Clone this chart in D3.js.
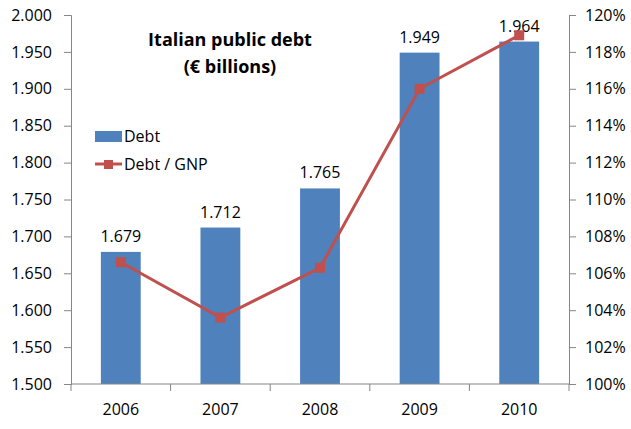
<!DOCTYPE html>
<html>
<head>
<meta charset="utf-8">
<script src="https://cdn.jsdelivr.net/npm/d3@7"></script>
<style>
    body { margin: 0; background: #fff; }
    text { font-family: 'Open Sans', sans-serif; fill: #000; }
</style>
</head>
<body>
<div id="chart"></div>
<script>
/*jslint browser: true*/
(function (d3) {
    'use strict';

    // data
    var years = ['2006', '2007', '2008', '2009', '2010'];
    var debt = [1.679, 1.712, 1.765, 1.949, 1.964];       // € trillions, shown as 1.679 etc
    var debtGnp = [106.6, 103.6, 106.3, 116.0, 118.9];    // percent
    var leftTicks = [1.5, 1.55, 1.6, 1.65, 1.7, 1.75, 1.8, 1.85, 1.9, 1.95, 2.0];
    var rightTicks = [100, 102, 104, 106, 108, 110, 112, 114, 116, 118, 120];

    var W = 631, H = 429;
    var left = 71, right = 569, top = 15, bottom = 384;
    var blue = '#4f81bd', red = '#c0504d', axisCol = '#868686';

    var svg = d3.select('#chart').append('svg')
        .attr('width', W).attr('height', H);

    var x = d3.scaleBand().domain(years).range([left, right])
        .paddingInner(0.6).paddingOuter(0.3);
    var yL = d3.scaleLinear().domain([1.5, 2.0]).range([bottom, top]);
    var yR = d3.scaleLinear().domain([100, 120]).range([bottom, top]);

    // bars
    svg.selectAll('rect.bar').data(debt).enter().append('rect')
        .attr('class', 'bar')
        .attr('x', function (d, i) { return x(years[i]); })
        .attr('width', x.bandwidth())
        .attr('y', function (d) { return yL(d); })
        .attr('height', function (d) { return bottom - yL(d); })
        .style('fill', blue);

    // axes
    var axL = svg.append('g').attr('transform', 'translate(' + left + ',0)')
        .call(d3.axisLeft(yL).tickValues(leftTicks).tickSizeOuter(0).tickSize(7).tickPadding(12)
            .tickFormat(d3.format('.3f')));
    var axR = svg.append('g').attr('transform', 'translate(' + right + ',0)')
        .call(d3.axisRight(yR).tickValues(rightTicks).tickSizeOuter(0).tickSize(7).tickPadding(9)
            .tickFormat(function (d) { return d + '%'; }));
    [axL, axR].forEach(function (a) {
        a.select('.domain').attr('stroke', axisCol);
        a.selectAll('.tick line').attr('stroke', axisCol);
        a.selectAll('.tick text').style('font-size', '16px')
            .style('font-family', "'Open Sans', sans-serif").attr('fill', '#000');
    });

    // category axis
    svg.append('line').attr('x1', left).attr('x2', right)
        .attr('y1', bottom).attr('y2', bottom).attr('stroke', axisCol);
    svg.selectAll('line.cat').data(d3.range(years.length + 1)).enter().append('line')
        .attr('x1', function (i) { return left + i * x.step(); })
        .attr('x2', function (i) { return left + i * x.step(); })
        .attr('y1', bottom).attr('y2', bottom + 7)
        .attr('stroke', axisCol);
    svg.selectAll('text.year').data(years).enter().append('text')
        .attr('x', function (d) { return x(d) + x.bandwidth() / 2; })
        .attr('y', 415)
        .attr('text-anchor', 'middle')
        .style('font-size', '16px')
        .text(function (d) { return d; });

    // bar labels
    svg.selectAll('text.val').data(debt).enter().append('text')
        .attr('x', function (d, i) { return x(years[i]) + x.bandwidth() / 2; })
        .attr('y', function (d) { return yL(d) - 10; })
        .attr('text-anchor', 'middle')
        .style('font-size', '16px')
        .text(function (d) { return d.toFixed(3); });

    // line
    var cx = function (d, i) { return x(years[i]) + x.bandwidth() / 2; };
    svg.append('path').datum(debtGnp)
        .attr('d', d3.line().x(cx).y(function (d) { return yR(d); }))
        .attr('fill', 'none').attr('stroke', red).attr('stroke-width', 3);
    svg.selectAll('rect.mk').data(debtGnp).enter().append('rect')
        .attr('x', function (d, i) { return cx(d, i) - 5; })
        .attr('y', function (d) { return yR(d) - 5; })
        .attr('width', 10).attr('height', 10)
        .style('fill', red);

    // title
    svg.append('text').attr('x', 230).attr('y', 46).attr('text-anchor', 'middle')
        .style('font-size', '18px').style('font-weight', 'bold').text('Italian public debt');
    svg.append('text').attr('x', 230).attr('y', 73).attr('text-anchor', 'middle')
        .style('font-size', '18px').style('font-weight', 'bold').text('(€ billions)');

    // legend
    svg.append('rect').attr('x', 95).attr('y', 131).attr('width', 27).attr('height', 11)
        .style('fill', blue);
    svg.append('text').attr('x', 124).attr('y', 142).style('font-size', '16px').text('Debt');
    svg.append('line').attr('x1', 95).attr('x2', 122).attr('y1', 164).attr('y2', 164)
        .attr('stroke', red).attr('stroke-width', 3);
    svg.append('rect').attr('x', 104).attr('y', 160).attr('width', 9).attr('height', 9)
        .style('fill', red);
    svg.append('text').attr('x', 124).attr('y', 170).style('font-size', '16px').text('Debt / GNP');

}(window.d3));
</script>
</body>
</html>
